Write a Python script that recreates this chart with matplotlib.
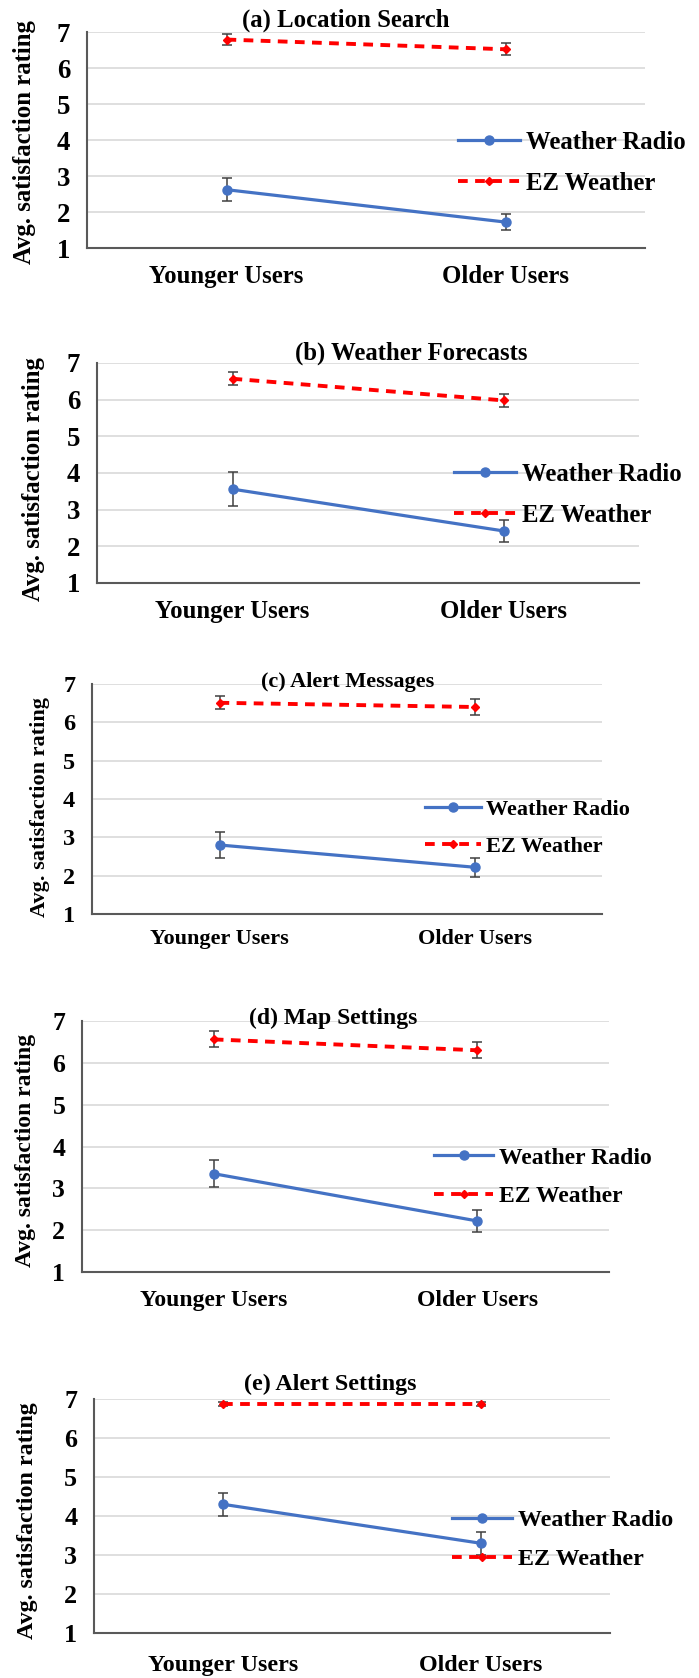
import numpy as np
import matplotlib
matplotlib.use("Agg")
import matplotlib.pyplot as plt

plt.rcParams['font.family'] = ['Liberation Serif', 'DejaVu Serif']
plt.rcParams['font.weight'] = 'bold'

titles = ["(a) Location Search", "(b) Weather Forecasts", "(c) Alert Messages",
          "(d) Map Settings", "(e) Alert Settings"]
groups = ["Younger Users", "Older Users"]
series = ["Weather Radio", "EZ Weather"]

# mean ratings per panel: [younger, older]
radio_mean = [[2.62, 1.72], [3.56, 2.42], [2.80, 2.22], [3.35, 2.22], [4.30, 3.30]]
radio_err = [[0.32, 0.23], [0.47, 0.29], [0.33, 0.25], [0.33, 0.27], [0.30, 0.29]]
ez_mean = [[6.79, 6.52], [6.57, 5.98], [6.51, 6.40], [6.56, 6.30], [6.88, 6.88]]
ez_err = [[0.16, 0.17], [0.18, 0.17], [0.17, 0.20], [0.19, 0.19], [0.05, 0.05]]

W, H = 699, 1678
fig = plt.figure(figsize=(W / 100, H / 100), dpi=100)

# pixel layout of each pasted panel: axes box (l, r, top, bottom), title pos,
# ylabel pos, legend pos, font size, xtick pad
layout = [
    dict(box=(87, 645, 32, 248), title=(346, 20), ylab=(25, 142), leg=(458, 163), fs=17.8, xpad=12),
    dict(box=(97, 639, 363, 583), title=(411, 353), ylab=(34, 479), leg=(454, 495), fs=17.8, xpad=12),
    dict(box=(92, 602, 684, 914), title=(348, 682), ylab=(40, 807), leg=(425, 828), fs=16, xpad=11),
    dict(box=(82, 609, 1021, 1272), title=(333, 1018), ylab=(25, 1150), leg=(434, 1177), fs=17, xpad=13),
    dict(box=(94, 610, 1399, 1633), title=(330, 1384), ylab=(27, 1521), leg=(452, 1540), fs=17.3, xpad=16),
]

blue = '#4472C4'
red = '#FF0000'
x = np.arange(len(groups))

for i, lay in enumerate(layout):
    l, r, t, b = lay['box']
    fs = lay['fs']
    ax = fig.add_axes([l / W, 1 - b / H, (r - l) / W, (b - t) / H])

    ax.errorbar(x, radio_mean[i], yerr=radio_err[i], color=blue, lw=2.3,
                marker='o', ms=6.5, ecolor='#404040', elinewidth=1.1,
                capsize=3.5, capthick=1.1, label=series[0], zorder=3)
    ax.errorbar(x, ez_mean[i], yerr=ez_err[i], color=red, lw=2.8,
                ls=(0, (2.5, 1.9)), marker='D', ms=4.5, ecolor='#404040',
                elinewidth=1.1, capsize=3.5, capthick=1.1, label=series[1], zorder=3)

    ax.set_xlim(-0.5, 1.5)
    ax.set_ylim(1, 7)
    ax.set_yticks(range(1, 8))
    ax.set_xticks(x)
    ax.set_xticklabels(groups)
    ax.yaxis.grid(True, color='#D9D9D9', lw=1.2)
    ax.set_axisbelow(True)
    for s in ['top', 'right']:
        ax.spines[s].set_visible(False)
    for s in ['left', 'bottom']:
        ax.spines[s].set_color('#595959')
        ax.spines[s].set_linewidth(1.5)
    ax.tick_params(axis='both', length=0)
    ax.tick_params(axis='x', labelsize=fs, pad=lay['xpad'])
    ax.tick_params(axis='y', labelsize=fs + 1.5, pad=12)

    fig.text(lay['title'][0] / W, 1 - lay['title'][1] / H, titles[i],
             ha='center', va='center', fontsize=fs, fontweight='bold')
    fig.text(lay['ylab'][0] / W, 1 - lay['ylab'][1] / H, "Avg. satisfaction rating",
             ha='center', va='center', rotation=90, fontsize=fs, fontweight='bold')

    handles, labels = ax.get_legend_handles_labels()
    handles = [h[0] for h in handles]
    ax.legend(handles, labels, loc='center left',
              bbox_to_anchor=(lay['leg'][0] / W, 1 - lay['leg'][1] / H),
              bbox_transform=fig.transFigure, frameon=False, fontsize=fs,
              borderpad=0, borderaxespad=0, handlelength=2.5,
              handletextpad=0.25, labelspacing=0.72, numpoints=1)

fig.savefig("out.png", dpi=100)
